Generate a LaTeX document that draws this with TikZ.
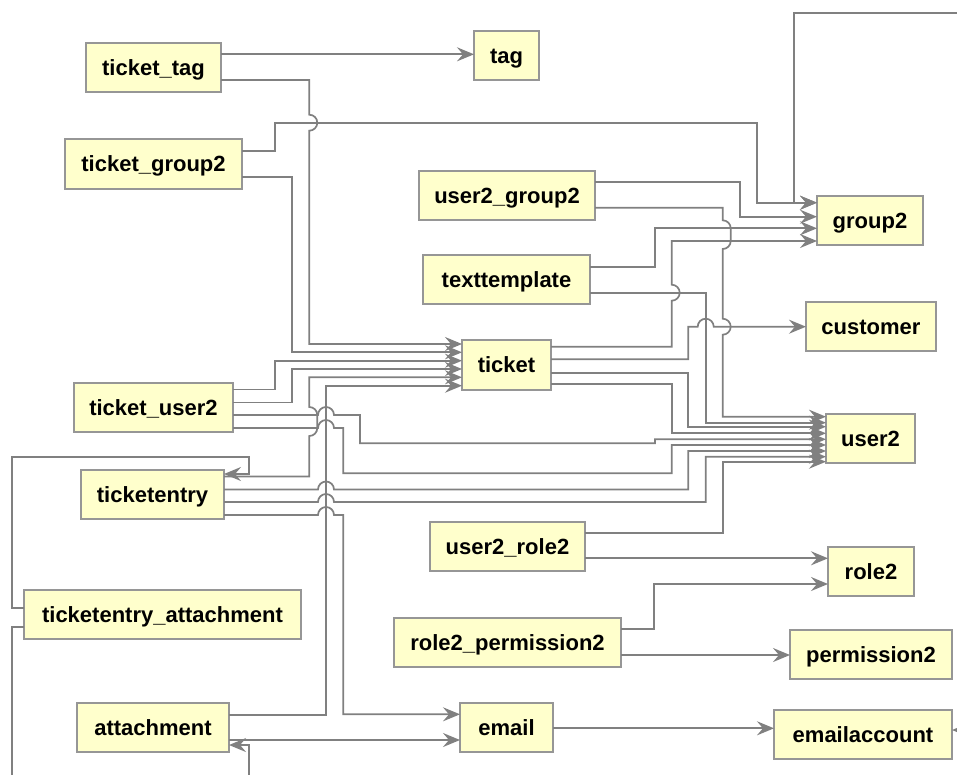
\documentclass[tikz,border=0pt]{standalone}
\usepackage{fontspec}
\setmainfont{Liberation Sans}
\usetikzlibrary{arrows.meta}
\definecolor{tblfill}{RGB}{255,255,204}
\definecolor{tblline}{RGB}{150,150,150}
\definecolor{fkline}{RGB}{128,128,128}
\begin{document}
\begin{tikzpicture}[x=1pt,y=-1pt,
  tbl/.style={draw=tblline, fill=tblfill, line width=1.6pt, inner sep=0pt, outer sep=0pt,
    font=\fontsize{22}{26}\selectfont\bfseries, text height=15.5pt, text depth=0pt},
  fk/.style={draw=fkline, line width=1.7pt, -{Stealth[length=17pt,width=14pt,inset=6pt]}},
  hop/.style={radius=8pt}]
\useasboundingbox (0,0) rectangle (957,774);
\fill[white] (0,0) rectangle (957,774);

% tables
\node[tbl, minimum width=135pt, minimum height=49pt] (ticket_tag) at (153.5,67.5) {ticket\_tag};
\node[tbl, minimum width=65pt,  minimum height=49pt] (tag) at (506.5,55.5) {tag};
\node[tbl, minimum width=177pt, minimum height=50pt] (ticket_group2) at (153.5,164) {ticket\_group2};
\node[tbl, minimum width=176pt, minimum height=49pt] (user2_group2) at (507,195.5) {user2\_group2};
\node[tbl, minimum width=106pt, minimum height=49pt] (group2) at (870,220.5) {group2};
\node[tbl, minimum width=167pt, minimum height=49pt] (texttemplate) at (506.5,279.5) {texttemplate};
\node[tbl, minimum width=130pt, minimum height=49pt] (customer) at (871,326.5) {customer};
\node[tbl, minimum width=89pt,  minimum height=50pt] (ticket) at (506.5,365) {ticket};
\node[tbl, minimum width=159pt, minimum height=49pt] (ticket_user2) at (153.5,407.5) {ticket\_user2};
\node[tbl, minimum width=89pt,  minimum height=49pt] (user2) at (870.5,438.5) {user2};
\node[tbl, minimum width=143pt, minimum height=49pt] (ticketentry) at (152.5,494.5) {ticketentry};
\node[tbl, minimum width=155pt, minimum height=49pt] (user2_role2) at (507.5,546.5) {user2\_role2};
\node[tbl, minimum width=86pt,  minimum height=49pt] (role2) at (871,571.5) {role2};
\node[tbl, minimum width=277pt, minimum height=49pt] (ticketentry_attachment) at (162.5,614.5) {ticketentry\_attachment};
\node[tbl, minimum width=227pt, minimum height=49pt] (role2_permission2) at (507.5,642.5) {role2\_permission2};
\node[tbl, minimum width=162pt, minimum height=49pt] (permission2) at (871,654.5) {permission2};
\node[tbl, minimum width=152pt, minimum height=49pt] (attachment) at (153,727.5) {attachment};
\node[tbl, minimum width=93pt,  minimum height=49pt] (email) at (506.5,727.5) {email};
\node[tbl, minimum width=178pt, minimum height=49pt] (emailaccount) at (863,734.5) {emailaccount};

% ends of links whose other table lies outside the sheet
\coordinate (groupsrc) at (990,13.3);
\coordinate (accountsrc) at (990,730);

% ticket_tag
\draw[fk] (ticket_tag.east |- 0,54.3) -- (tag.west |- 0,54.3);
\draw[fk] (ticket_tag.east |- 0,80) -- (309.3,80) -- (309.3,114.7)
  arc[start angle=90,end angle=-90,hop] -- (309.3,344) -- (ticket.west |- 0,344);

% ticket_group2
\draw[fk] (ticket_group2.east |- 0,151.3) -| (275,122.7) -| (756.7,202.7) -- (group2.west |- 0,202.7);
\draw[fk] (ticket_group2.east |- 0,176.7) -| (291.7,352.3) -- (ticket.west |- 0,352.3);

% group2 from the right edge
\draw[fk] (groupsrc) -| (794.3,202.7) -- (group2.west |- 0,202.7);

% user2_group2
\draw[fk] (user2_group2.east |- 0,182.3) -| (740,216.7) -- (group2.west |- 0,216.7);
\draw[fk] (user2_group2.east |- 0,207.7) -- (722.7,207.7) -- (722.7,220.3)
  arc[start angle=90,end angle=0,hop] -- (730.7,241)
  arc[start angle=0,end angle=-90,hop] -- (722.7,318.7)
  arc[start angle=90,end angle=-90,hop] -- (722.7,416.7) -- (user2.west |- 0,416.7);

% texttemplate
\draw[fk] (texttemplate.east |- 0,267.3) -| (655,228.3) -- (group2.west |- 0,228.3);
\draw[fk] (texttemplate.east |- 0,292.7) -| (705.7,422.7) -- (user2.west |- 0,422.7);

% ticket
\draw[fk] (ticket.east |- 0,346.7) -- (671.7,346.7) -- (671.7,300.7)
  arc[start angle=-90,end angle=90,hop] -- (671.7,241) -- (group2.west |- 0,241);
\draw[fk] (ticket.east |- 0,359.3) -| (688.3,326.7) -- (697.7,326.7)
  arc[start angle=180,end angle=0,hop] -- (customer.west |- 0,326.7);
\draw[fk] (ticket.east |- 0,372.7) -| (688.3,426.7) -- (user2.west |- 0,426.7);
\draw[fk] (ticket.east |- 0,384.3) -| (671.7,433.3) -- (user2.west |- 0,433.3);

% ticket_user2
\draw[fk] (ticket_user2.east |- 0,389.5) -| (275,360.7) -- (ticket.west |- 0,360.7);
\draw[fk] (ticket_user2.east |- 0,402.5) -| (291.7,369) -- (ticket.west |- 0,369);
\draw[fk] (ticket_user2.east |- 0,415) -- (318,415) arc[start angle=180,end angle=0,hop]
  -- (360,415) -- (360,443.3) -- (655,443.3) -- (655,439.3) -- (user2.west |- 0,439.3);
\draw[fk] (ticket_user2.east |- 0,428) -- (318,428) arc[start angle=180,end angle=0,hop]
  -- (343.3,428) -- (343.3,473.3) -| (671.7,445) -- (user2.west |- 0,445);

% ticketentry
\draw[fk] (ticketentry.east |- 0,476.5) -- (309.3,476.5) -- (309.3,436)
  arc[start angle=-90,end angle=0,hop] -- (317.3,415)
  arc[start angle=0,end angle=90,hop] -- (309.3,377.3) -- (ticket.west |- 0,377.3);
\draw[fk] (ticketentry.east |- 0,489.5) -- (318,489.5) arc[start angle=180,end angle=0,hop]
  -- (688.3,489.5) -- (688.3,451) -- (user2.west |- 0,451);
\draw[fk] (ticketentry.east |- 0,502) -- (318,502) arc[start angle=180,end angle=0,hop]
  -- (705.7,502) -- (705.7,456.7) -- (user2.west |- 0,456.7);
\draw[fk] (ticketentry.east |- 0,515) -- (318,515) arc[start angle=180,end angle=0,hop]
  -- (343.3,515) -- (343.3,714.3) -- (email.west |- 0,714.3);

% attachment
\draw[fk] (attachment.east |- 0,715) -| (326,385.7) -- (ticket.west |- 0,385.7);
\draw[fk] (attachment.east |- 0,740) -- (email.west |- 0,740);

% ticketentry_attachment
\draw[fk] (ticketentry_attachment.west |- 0,608.3) -| (11.7,456.7) -| (249.3,474) -- (ticketentry.east |- 0,474);
\draw[fk] (ticketentry_attachment.west |- 0,627) -| (11.7,800) -| (249.3,745) -- (attachment.east |- 0,745);

% user2_role2
\draw[fk] (user2_role2.east |- 0,532.7) -| (722.7,461.7) -- (user2.west |- 0,461.7);
\draw[fk] (user2_role2.east |- 0,558.3) -- (role2.west |- 0,558.3);

% role2_permission2
\draw[fk] (role2_permission2.east |- 0,629.3) -| (654.2,584) -- (role2.west |- 0,584);
\draw[fk] (role2_permission2.east |- 0,655) -- (permission2.west |- 0,655);

% email
\draw[fk] (email.east |- 0,728.3) -- (emailaccount.west |- 0,728.3);
\draw[fk] (accountsrc) -- (emailaccount.east |- 0,730);
\end{tikzpicture}
\end{document}
